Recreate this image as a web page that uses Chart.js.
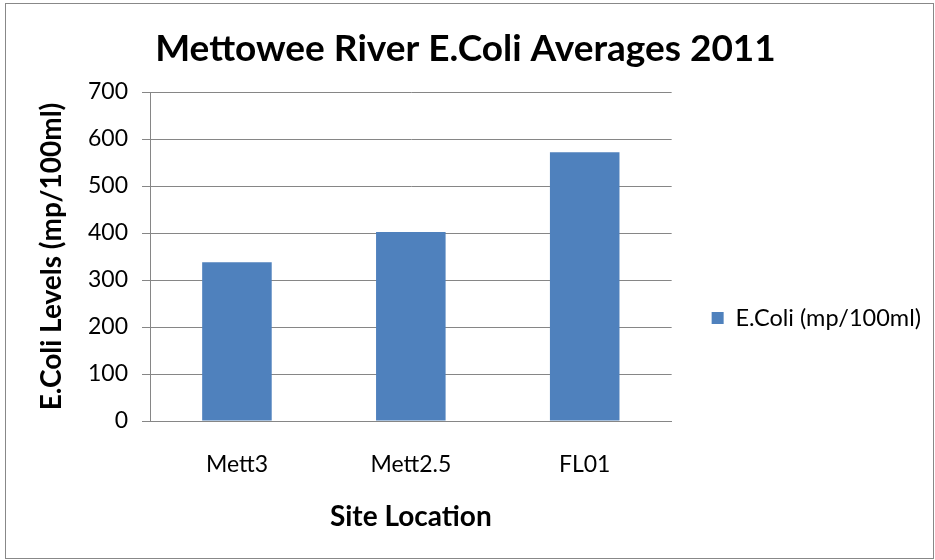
<!DOCTYPE html>
<html>
<head>
<meta charset="utf-8">
<script src="https://cdn.jsdelivr.net/npm/chart.js@4"></script>
<style>
  html, body { margin: 0; padding: 0; background: #fff; }
  #wrap { width: 935px; height: 560px; position: relative; }
</style>
</head>
<body>
<div id="wrap"><canvas id="c" width="935" height="560"></canvas></div>
<script>
const chartTitle = 'Mettowee River E.Coli Averages 2011';
const categories = ['Mett3', 'Mett2.5', 'FL01'];
const seriesName = 'E.Coli (mp/100ml)';
const ecoliValues = [338, 402, 572];
const yAxisTitle = 'E.Coli Levels (mp/100ml)';
const xAxisTitle = 'Site Location';
const yMin = 0, yMax = 700, yStep = 100;

const FONT = 'Lato, "Open Sans", sans-serif';

const frame = {
  id: 'frame',
  beforeDraw(chart) {
    const ctx = chart.ctx;
    ctx.save();
    ctx.fillStyle = '#ffffff';
    ctx.fillRect(0, 0, chart.width, chart.height);
    ctx.strokeStyle = '#888888';
    ctx.lineWidth = 1;
    ctx.strokeRect(5.5, 3.5, 928, 555);
    ctx.restore();
  }
};

function build() {
  new Chart(document.getElementById('c'), {
    type: 'bar',
    data: {
      labels: categories,
      datasets: [{
        label: seriesName,
        data: ecoliValues,
        backgroundColor: '#4F81BD',
        borderWidth: 0,
        barPercentage: 0.4,
        categoryPercentage: 1.0
      }]
    },
    options: {
      responsive: false,
      animation: false,
      devicePixelRatio: 1,
      layout: { padding: { left: 0, right: 4, top: 76, bottom: 0 } },
      plugins: {
        title: {
          display: true,
          text: chartTitle,
          color: '#000',
          font: { family: FONT, size: 37, weight: 'bold' },
          padding: { top: -49, bottom: 20.6 }
        },
        legend: {
          position: 'right',
          maxWidth: 320,
          labels: {
            color: '#000',
            font: { family: FONT, size: 23.5 },
            boxWidth: 12,
            boxHeight: 12,
            padding: 40
          }
        },
        tooltip: { enabled: false }
      },
      scales: {
        x: {
          afterFit(scale) { scale.height = 139; },
          grid: { display: false, drawTicks: false },
          border: { color: '#868686', width: 1 },
          ticks: { color: '#000', font: { family: FONT, size: 23 }, padding: 30 },
          title: {
            display: true, text: xAxisTitle, color: '#000',
            font: { family: FONT, size: 28, weight: 'bold' },
            padding: { top: 0, bottom: 26 }
          }
        },
        y: {
          afterFit(scale) { scale.width = 150; },
          min: yMin, max: yMax,
          ticks: { stepSize: yStep, color: '#000', font: { family: FONT, size: 23 }, padding: 14 },
          grid: { color: '#868686', tickLength: 8 },
          border: { color: '#868686', width: 1 },
          title: {
            display: true, text: yAxisTitle, color: '#000',
            font: { family: FONT, size: 28, weight: 'bold' },
            padding: { top: 35, bottom: 0 }
          }
        }
      }
    },
    plugins: [frame]
  });
}

const fontLoads = [
  'bold 37px Lato', 'bold 28px Lato', '23px Lato'
].map(f => (document.fonts && document.fonts.load) ? document.fonts.load(f) : Promise.resolve());
Promise.all(fontLoads).then(build, build);
</script>
</body>
</html>
